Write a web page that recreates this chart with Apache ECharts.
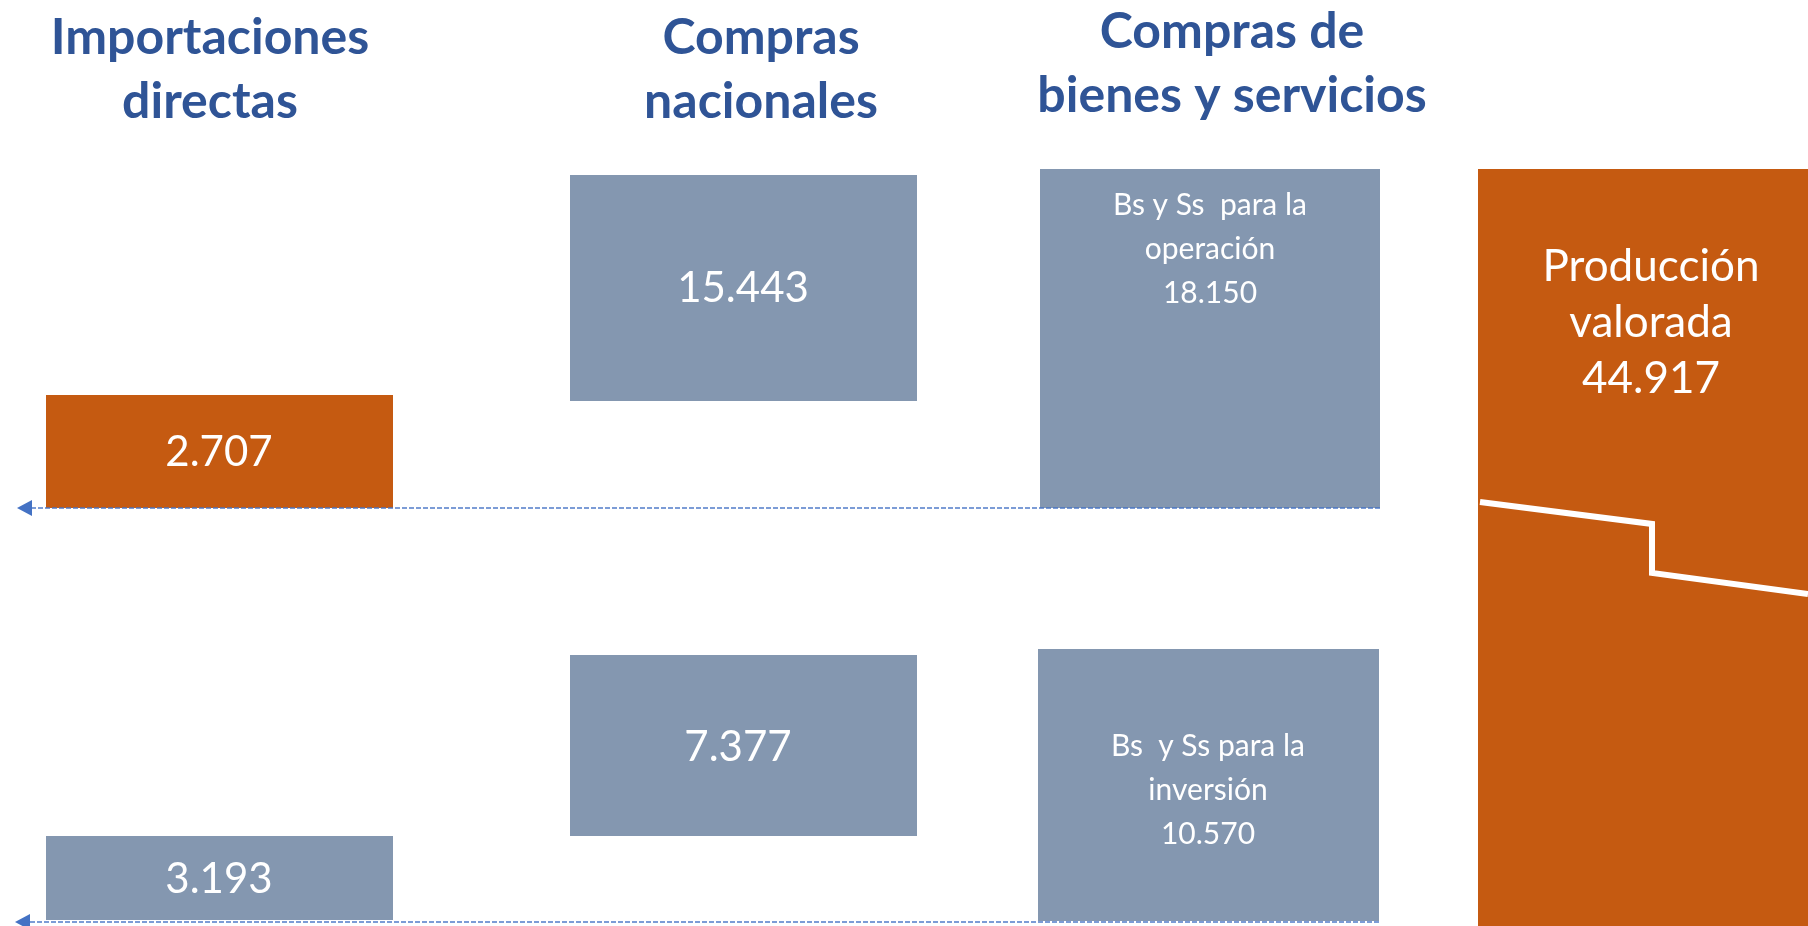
<!DOCTYPE html>
<html>
<head>
<meta charset="utf-8">
<script src="https://cdn.jsdelivr.net/npm/echarts@6/dist/echarts.min.js"></script>
<style>
html,body{margin:0;padding:0;background:#fff;}
#chart{width:1808px;height:926px;}
</style>
</head>
<body>
<div id="chart"></div>
<script>
// ---- data ----
const columnTitles = ['Importaciones\ndirectas', 'Compras\nnacionales', 'Compras de\nbienes y servicios'];
const importValues = [2707, 3193];            // operación, inversión
const nationalValues = [15443, 7377];         // operación, inversión
const goodsLabels = ['Bs y Ss  para la\noperación', 'Bs  y Ss para la\ninversión'];
const goodsValues = [18150, 10570];           // operación, inversión
const productionLabel = 'Producción\nvalorada';
const productionValue = 44917;

// ---- helpers ----
function fmt(v) {
  const s = String(v);
  return s.length > 3 ? s.slice(0, -3) + '.' + s.slice(-3) : s;
}

const ORANGE = '#C55A11';
const GREY = '#8497B0';
const BLUE_TITLE = '#2F5496';
const ARROW = '#4472C4';

// ---- layout (diagram geometry, in layout units of the hidden axes) ----
const boxes = [
  { x0: 46,   x1: 393,  y0: 395, y1: 508, color: ORANGE, text: fmt(importValues[0]),   tx: 219,  ty: 452, size: 42, lh: 50 },
  { x0: 46,   x1: 393,  y0: 836, y1: 920, color: GREY,   text: fmt(importValues[1]),   tx: 219,  ty: 879, size: 42, lh: 50 },
  { x0: 570,  x1: 917,  y0: 175, y1: 401, color: GREY,   text: fmt(nationalValues[0]), tx: 743,  ty: 288, size: 42, lh: 50 },
  { x0: 570,  x1: 917,  y0: 655, y1: 836, color: GREY,   text: fmt(nationalValues[1]), tx: 738,  ty: 747, size: 42, lh: 50 },
  { x0: 1040, x1: 1380, y0: 169, y1: 508, color: GREY,   text: goodsLabels[0] + '\n' + fmt(goodsValues[0]), tx: 1210, ty: 249, size: 30, lh: 44 },
  { x0: 1038, x1: 1379, y0: 649, y1: 921, color: GREY,   text: goodsLabels[1] + '\n' + fmt(goodsValues[1]), tx: 1208, ty: 790, size: 30, lh: 44 },
  { x0: 1478, x1: 1808, y0: 169, y1: 926, color: ORANGE, text: productionLabel + '\n' + fmt(productionValue), tx: 1651, ty: 323, size: 44, lh: 56 }
];
const titles = [
  { text: columnTitles[0], x: 210,  y: 70 },
  { text: columnTitles[1], x: 761,  y: 70 },
  { text: columnTitles[2], x: 1232, y: 64 }
];
const arrows = [
  { xFrom: 1380, xTo: 17, y: 508 },
  { xFrom: 1379, xTo: 15, y: 922 }
];
const cutLine = [[1480, 502], [1652, 524], [1652, 573], [1808, 594]];

const chart = echarts.init(document.getElementById('chart'), null, { renderer: 'canvas' });

const option = {
  backgroundColor: '#ffffff',
  animation: false,
  grid: { left: 0, right: 0, top: 0, bottom: 0 },
  xAxis: { type: 'value', min: 0, max: 1808, show: false },
  yAxis: { type: 'value', min: 0, max: 926, inverse: true, show: false },
  series: [
    {
      type: 'custom',
      name: 'boxes',
      data: boxes.map((b, i) => [i]),
      z: 2,
      renderItem: function (params, api) {
        const b = boxes[params.dataIndex];
        const p0 = api.coord([b.x0, b.y0]);
        const p1 = api.coord([b.x1, b.y1]);
        const c = api.coord([b.tx, b.ty]);
        const children = [
          { type: 'rect', shape: { x: p0[0], y: p0[1], width: p1[0] - p0[0], height: p1[1] - p0[1] },
            style: { fill: b.color } },
          { type: 'text', x: c[0], y: c[1], z2: 10,
            style: { text: b.text, fill: '#ffffff', fontFamily: 'Lato, "Open Sans", sans-serif',
                     fontSize: b.size, lineHeight: b.lh, align: 'center', verticalAlign: 'middle' } }
        ];
        return { type: 'group', children: children };
      }
    },
    {
      type: 'custom',
      name: 'cut',
      data: [[0]],
      z: 3,
      renderItem: function (params, api) {
        const pts = cutLine.map(p => api.coord(p));
        return { type: 'polyline', shape: { points: pts },
                 style: { stroke: '#ffffff', lineWidth: 6, fill: null, lineJoin: 'miter' } };
      }
    },
    {
      type: 'custom',
      name: 'arrows',
      data: arrows.map((a, i) => [i]),
      z: 4,
      renderItem: function (params, api) {
        const a = arrows[params.dataIndex];
        const start = api.coord([a.xFrom, a.y]);
        const tip = api.coord([a.xTo, a.y]);
        const headLen = 15, headHalf = 8;
        return {
          type: 'group',
          children: [
            { type: 'line', shape: { x1: start[0], y1: start[1], x2: tip[0] + headLen, y2: tip[1] },
              style: { stroke: ARROW, lineWidth: 2, lineDash: [5, 2], opacity: 0.7 } },
            { type: 'polygon', shape: { points: [[tip[0], tip[1]], [tip[0] + headLen, tip[1] - headHalf], [tip[0] + headLen, tip[1] + headHalf]] },
              style: { fill: ARROW } }
          ]
        };
      }
    },
    {
      type: 'custom',
      name: 'titles',
      data: titles.map((t, i) => [i]),
      z: 5,
      renderItem: function (params, api) {
        const t = titles[params.dataIndex];
        const c = api.coord([t.x, t.y]);
        return { type: 'text', x: c[0], y: c[1],
                 style: { text: t.text, fill: BLUE_TITLE, fontFamily: 'Lato, "Open Sans", sans-serif',
                          fontWeight: 'bold', fontSize: 50, lineHeight: 64, align: 'center', verticalAlign: 'middle' } };
      }
    }
  ]
};
chart.setOption(option);
</script>
</body>
</html>
